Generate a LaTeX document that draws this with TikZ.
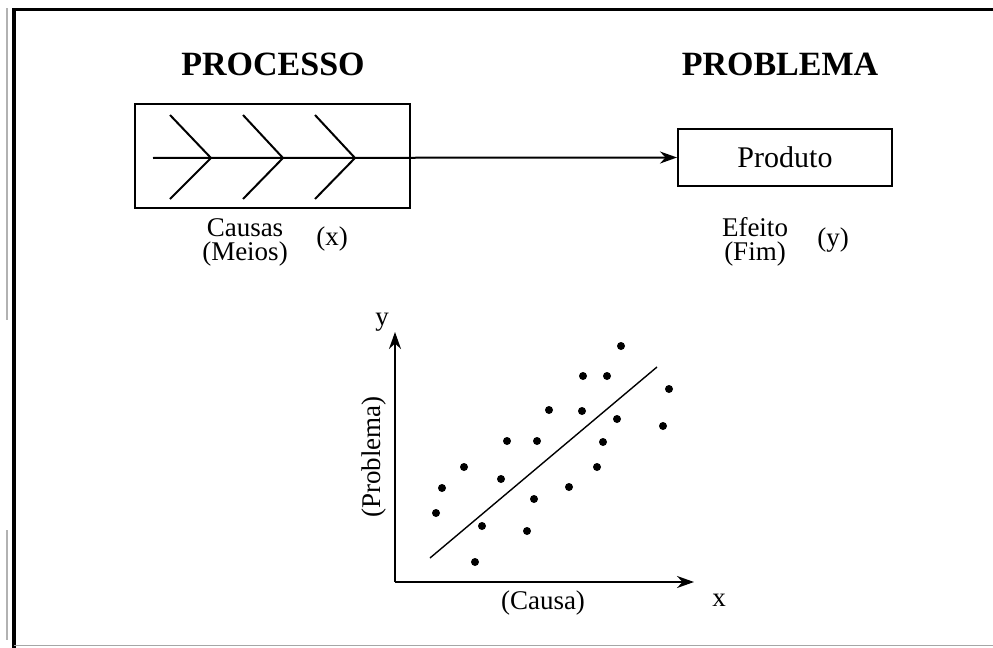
\documentclass[tikz,border=0pt]{standalone}
\usepackage{fontspec}
\setmainfont{Liberation Serif}
\usetikzlibrary{arrows.meta}
\begin{document}
\begin{tikzpicture}[x=0.5pt,y=-0.5pt,
  line/.style={line width=1pt},
  arrowline/.style={line width=1pt,-{Stealth[length=8.5pt,width=6pt]}},
  title/.style={font=\fontsize{17}{19}\selectfont\bfseries},
  lbl/.style={font=\fontsize{13.5}{12}\selectfont,align=center,inner sep=0pt},
  dot/.style={circle,fill=black,inner sep=0pt,minimum size=4pt}]
\useasboundingbox (0,0) rectangle (993,648);
\fill[white] (0,0) rectangle (993,648);

% outer frame (open on the right)
\draw[line width=1.6pt] (993,9.5) -- (14,9.5) -- (14,648);
\draw[gray!70,line width=0.5pt] (14,645) -- (993,645);
\draw[gray!60,line width=0.6pt] (7,8) -- (7,320);
\draw[gray!60,line width=0.6pt] (7,530) -- (7,640);

% titles
\node[title] (tproc) at (273,64) {PROCESSO};
\node[title] (tprob) at (780,64) {PROBLEMA};

% process box with fishbone, product box
\node[draw,line width=1pt,minimum width=137.5pt,minimum height=52pt,inner sep=0pt] (proc) at (272.5,156) {};
\node[draw,line width=1pt,minimum width=107pt,minimum height=28.5pt,inner sep=0pt,
      font=\fontsize{15}{15}\selectfont] (prod) at (785,157.5) {Produto};

\coordinate (spine) at (153,158);
\coordinate (v1) at (211,158);
\coordinate (v2) at (283,158);
\coordinate (v3) at (355,158);
\draw[arrowline] (spine) -- (prod.west);
\foreach \v/\t in {v1/170,v2/243,v3/315}{
  \draw[line] (\t,115) -- (\v) -- (\t,199);
}

% labels under the boxes
\node[lbl] (causas) at (245,242) {Causas\\(Meios)};
\node[lbl] (xlab) at (332,239) {(x)};
\node[lbl] (efeito) at (755,242) {Efeito\\(Fim)};
\node[lbl] (ylab) at (833,240) {(y)};

% scatter plot
\coordinate (o) at (395,582);
\coordinate (ytop) at (395,332);
\coordinate (xend) at (694,582);
\draw[arrowline] (o) -- (ytop);
\draw[arrowline] (o) -- (xend);
\node[lbl] (yax) at (382,322) {y};
\node[lbl] (xax) at (719,600) {x};
\node[lbl] (causa) at (543,603) {(Causa)};
\node[lbl,rotate=90] (problema) at (374,457) {(Problema)};

\coordinate (r1) at (430,558);
\coordinate (r2) at (657,367);
\draw[line width=0.7pt] (r1) -- (r2);

\foreach \px/\py [count=\i] in {621/346,583/376,607/376,669/389,549/410,582/411,617/419,
  663/426,507/441,537/441,603/442,464/467,597/467,501/479,442/488,569/487,534/499,
  436/513,482/526,527/531,475/562}{
  \node[dot] (d\i) at (\px,\py) {};
}
\end{tikzpicture}
\end{document}
